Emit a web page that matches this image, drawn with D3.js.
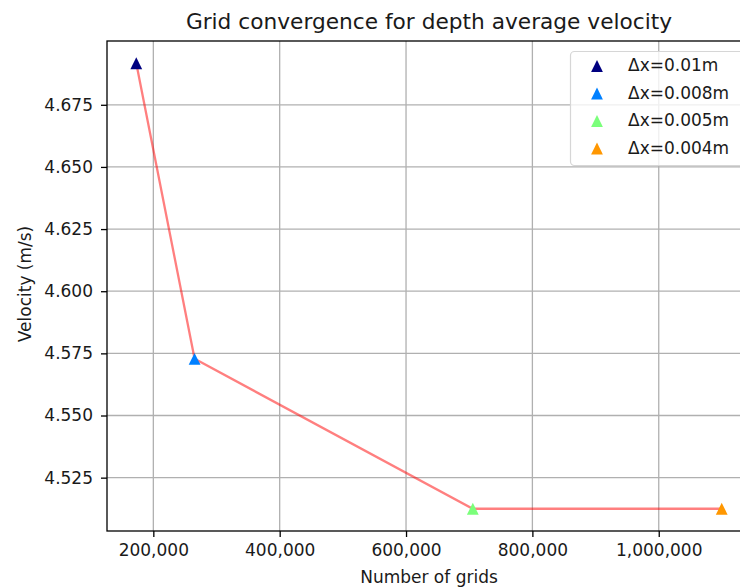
<!DOCTYPE html>
<html><head><meta charset="utf-8">
<script src="https://cdn.jsdelivr.net/npm/d3@7"></script>
<style>body{margin:0;background:#fff;} text{font-family:"DejaVu Sans",sans-serif;fill:#1a1a1a;}</style>
</head><body><svg id="c" width="740" height="588"></svg>
<script>
const labels = ["Δx=0.01m","Δx=0.008m","Δx=0.005m","Δx=0.004m"];
const grids = [173000, 265300, 705700, 1099700];
const velocity = [4.6917, 4.5728, 4.5125, 4.5125];
const colors = ["#000080","#0080ff","#7bff7b","#ff9700"];
const xTicks = [200000,400000,600000,800000,1000000];
const yTicks = [4.525,4.550,4.575,4.600,4.625,4.650,4.675];

const svg = d3.select("#c");
const L=107, R=751, T=41, B=531;
const FS = "17px";
const pad = (a)=>{const mn=d3.min(a),mx=d3.max(a),m=(mx-mn)*0.05;return [mn-m,mx+m];};
const x = d3.scaleLinear().domain(pad(grids)).range([L,R]);
const y = d3.scaleLinear().domain(pad(velocity)).range([B,T]);

// grid
svg.append("g").selectAll("line").data(xTicks).join("line")
 .attr("x1",d=>x(d)).attr("x2",d=>x(d)).attr("y1",T).attr("y2",B)
 .attr("stroke","#b0b0b0").attr("stroke-width",1.3);
svg.append("g").selectAll("line").data(yTicks).join("line")
 .attr("y1",d=>y(d)).attr("y2",d=>y(d)).attr("x1",L).attr("x2",R)
 .attr("stroke","#b0b0b0").attr("stroke-width",1.3);

// axes
const fmt = d3.format(",");
const xa = svg.append("g").attr("transform",`translate(0,${B})`)
 .call(d3.axisBottom(x).tickValues(xTicks).tickFormat(fmt).tickSizeOuter(0).tickSize(6).tickPadding(7));
const ya = svg.append("g").attr("transform",`translate(${L},0)`)
 .call(d3.axisLeft(y).tickValues(yTicks).tickFormat(d3.format(".3f")).tickSizeOuter(0).tickSize(6).tickPadding(8));
[xa,ya].forEach(a=>{a.select(".domain").remove();a.attr("font-family",null).attr("font-size",null);
  a.selectAll("text").style("font-family","DejaVu Sans").style("font-size",FS).attr("fill","#1a1a1a");
  a.selectAll("line").attr("stroke","#000").attr("stroke-width",1.3);});
// spines
svg.append("rect").attr("x",L).attr("y",T).attr("width",R-L).attr("height",B-T)
 .attr("fill","none").attr("stroke","#000").attr("stroke-width",1.3);

// line
svg.append("path").datum(grids.map((g,i)=>[g,velocity[i]]))
 .attr("d",d3.line().x(d=>x(d[0])).y(d=>y(d[1])))
 .attr("fill","none").attr("stroke","#ff0000").attr("stroke-opacity",0.5).attr("stroke-width",2.3);

const S = 11.8;
const tri = `M0,${-S/2}L${S/2},${S/2}L${-S/2},${S/2}Z`;
svg.append("g").selectAll("path").data(grids).join("path")
 .attr("transform",(d,i)=>`translate(${x(d)},${y(velocity[i])})`)
 .attr("d",tri).attr("fill",(d,i)=>colors[i]);

// title, labels
svg.append("text").attr("x",(L+R)/2).attr("y",29).attr("text-anchor","middle")
 .style("font-size","21.7px").text("Grid convergence for depth average velocity");
svg.append("text").attr("x",(L+R)/2).attr("y",583).attr("text-anchor","middle")
 .style("font-size",FS).text("Number of grids");
svg.append("text").attr("transform",`translate(30.5,284) rotate(-90)`).attr("text-anchor","middle")
 .style("font-size",FS).text("Velocity (m/s)");

// legend
const lg = svg.append("g");
lg.append("rect").attr("x",570.5).attr("y",51.5).attr("width",175).attr("height",114).attr("rx",4)
 .attr("fill","#fff").attr("fill-opacity",0.8).attr("stroke","#d6d6d6").attr("stroke-width",1.2);
labels.forEach((t,i)=>{
  const base = 71 + i*27.5;
  lg.append("path").attr("d",tri).attr("transform",`translate(597,${base-5})`).attr("fill",colors[i]);
  lg.append("text").attr("x",628).attr("y",base).style("font-size",FS).text(t);
});
</script></body></html>
